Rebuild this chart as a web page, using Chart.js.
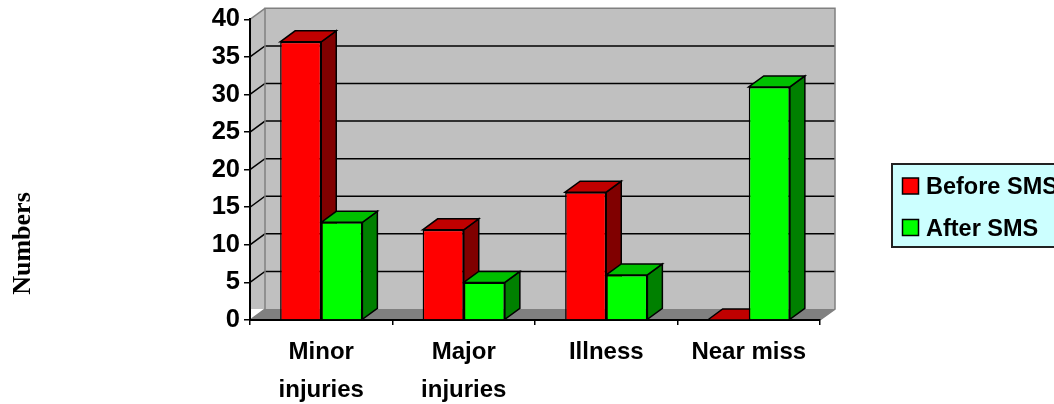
<!DOCTYPE html>
<html lang="en">
<head>
  <meta charset="UTF-8" />
  <title>Numbers before and after SMS</title>
  <script src="https://cdn.jsdelivr.net/npm/chart.js"></script>
  <style>
    html, body { margin: 0; padding: 0; background: #fff; overflow: hidden; }
    canvas { display: block; }
  </style>
</head>
<body>
  <canvas id="smsChart" width="1054" height="404"></canvas>

  <script>
    const categories = [['Minor', 'injuries'], ['Major', 'injuries'], 'Illness', 'Near miss'];
    const beforeSms = [37, 12, 17, 0];
    const afterSms = [13, 5, 6, 31];
    const yTitle = 'Numbers';

    const DX = 15, DY = 11; // fake 3D depth
    const FONT = '"Liberation Sans", Arial, sans-serif';

    function poly(ctx, pts, fill, stroke, lw) {
      ctx.beginPath();
      pts.forEach((p, i) => i ? ctx.lineTo(p[0], p[1]) : ctx.moveTo(p[0], p[1]));
      ctx.closePath();
      if (fill) { ctx.fillStyle = fill; ctx.fill(); }
      if (stroke) { ctx.strokeStyle = stroke; ctx.lineWidth = lw; ctx.lineJoin = 'miter'; ctx.stroke(); }
    }

    const box3d = {
      id: 'box3d',
      // walls, floor and the grid on the back wall
      beforeDraw(chart) {
        const ctx = chart.ctx, a = chart.chartArea, y = chart.scales.y;
        ctx.save();
        poly(ctx, [[a.left, a.top], [a.left + DX, a.top - DY], [a.right + DX, a.top - DY],
                   [a.right + DX, a.bottom - DY], [a.left, a.bottom - DY]], '#c0c0c0');
        poly(ctx, [[a.left, a.bottom], [a.left + DX, a.bottom - DY], [a.right + DX, a.bottom - DY],
                   [a.right, a.bottom]], '#808080');
        y.ticks.forEach(t => {
          const py = y.getPixelForValue(t.value);
          if (t.value === 0) return;
          ctx.beginPath();
          ctx.moveTo(a.left, py);
          ctx.lineTo(a.left + DX, py - DY);
          if (t.value < 40) ctx.lineTo(a.right + DX, py - DY);
          ctx.strokeStyle = t.value < 40 ? '#000' : '#808080';
          ctx.lineWidth = 1.5;
          ctx.stroke();
        });
        // wall outline
        ctx.beginPath();
        ctx.moveTo(a.left + DX, a.bottom - DY);
        ctx.lineTo(a.left + DX, a.top - DY);
        ctx.lineTo(a.right + DX, a.top - DY);
        ctx.lineTo(a.right + DX, a.bottom - DY);
        ctx.lineTo(a.right, a.bottom);
        ctx.strokeStyle = '#808080';
        ctx.lineWidth = 1.5;
        ctx.stroke();
        ctx.beginPath();
        ctx.moveTo(a.left, a.bottom);
        ctx.lineTo(a.left + DX, a.bottom - DY);
        ctx.stroke();
        ctx.restore();
      },
      // top and side faces of each bar, taken from the bar elements
      beforeDatasetsDraw(chart) {
        const ctx = chart.ctx;
        ctx.save();
        chart.data.datasets.forEach((ds, i) => {
          chart.getDatasetMeta(i).data.forEach(bar => {
            const l = bar.x - bar.width / 2, r = bar.x + bar.width / 2, t = bar.y, b = bar.base;
            if (b - t > 0) {
              poly(ctx, [[r, t], [r + DX, t - DY], [r + DX, b - DY], [r, b]], ds.sideColor, '#000', 1.5);
            }
            poly(ctx, [[l, t], [l + DX, t - DY], [r + DX, t - DY], [r, t]], ds.topColor, '#000', 1.5);
          });
        });
        ctx.restore();
      },
      // legend box and rotated axis title
      afterDraw(chart) {
        const ctx = chart.ctx;
        ctx.save();
        ctx.fillStyle = '#ccffff';
        ctx.fillRect(892, 164, 170, 83);
        ctx.strokeStyle = '#222';
        ctx.lineWidth = 2;
        ctx.strokeRect(892, 164, 170, 83);
        ctx.font = 'bold 23.5px ' + FONT;
        ctx.textBaseline = 'middle';
        chart.data.datasets.forEach((ds, i) => {
          const cy = 186 + i * 41.5;
          ctx.fillStyle = ds.backgroundColor;
          ctx.fillRect(902.5, cy - 8, 16, 16);
          ctx.strokeStyle = '#000';
          ctx.lineWidth = 1.5;
          ctx.strokeRect(902.5, cy - 8, 16, 16);
          ctx.fillStyle = '#000';
          ctx.fillText(ds.label, 926, cy + 2);
        });
        ctx.translate(30, 243.5);
        ctx.rotate(-Math.PI / 2);
        ctx.font = 'bold 26px "Liberation Serif", serif';
        ctx.textAlign = 'center';
        ctx.textBaseline = 'alphabetic';
        ctx.fillStyle = '#000';
        ctx.fillText(yTitle, 0, 0);
        ctx.restore();
      }
    };

    new Chart(document.getElementById('smsChart'), {
      type: 'bar',
      data: {
        labels: categories,
        datasets: [
          { label: 'Before SMS', data: beforeSms, backgroundColor: '#ff0000', topColor: '#c00000', sideColor: '#800000' },
          { label: 'After SMS', data: afterSms, backgroundColor: '#00ff00', topColor: '#00c000', sideColor: '#008000' }
        ]
      },
      options: {
        responsive: false,
        animation: false,
        layout: { padding: { left: 190, top: 18, right: 234, bottom: 0 } },
        datasets: { bar: { categoryPercentage: 0.577, barPercentage: 1, borderColor: '#000', borderWidth: 1.5 } },
        plugins: { legend: { display: false }, tooltip: { enabled: false } },
        scales: {
          x: {
            afterFit(s) { s.height = 84; s.paddingLeft = 0; s.paddingRight = 0; },
            grid: { offset: true, drawOnChartArea: false, color: '#000', tickLength: 5, lineWidth: 1.5 },
            border: { color: '#000', width: 2 },
            ticks: { color: '#000', maxRotation: 0, autoSkip: false, padding: 8, font: { family: FONT, weight: 'bold', size: 24, lineHeight: 1.6 } }
          },
          y: {
            min: 0,
            max: 40,
            afterFit(s) { s.width = 60; },
            grid: { drawOnChartArea: false, color: '#000', tickLength: 6, lineWidth: 1.5 },
            border: { color: '#000', width: 2 },
            ticks: { stepSize: 5, color: '#000', padding: 4, font: { family: FONT, weight: 'bold', size: 25.5 } }
          }
        }
      },
      plugins: [box3d]
    });
  </script>
</body>
</html>
